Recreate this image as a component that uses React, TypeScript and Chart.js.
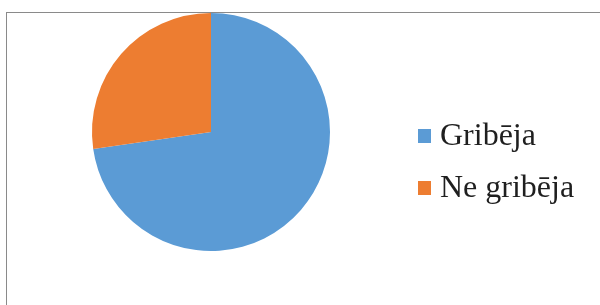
import React, { useEffect, useRef } from "react";
import { Chart, registerables } from "chart.js";

Chart.register(...registerables);

const categories = ["Gribēja", "Ne gribēja"];
const values = [8, 3];
const colors = ["#5B9BD5", "#ED7D31"];

export default function App() {
  const ref = useRef<HTMLCanvasElement | null>(null);

  useEffect(() => {
    document.body.style.margin = "0";
    document.body.style.overflow = "hidden";
    if (!ref.current) return;
    const chart = new Chart(ref.current, {
      type: "pie",
      data: {
        labels: categories,
        datasets: [
          {
            data: values,
            backgroundColor: colors,
            borderWidth: 0,
          },
        ],
      },
      options: {
        animation: false,
        responsive: false,
        maintainAspectRatio: false,
        layout: { padding: { left: 92, right: 270, top: 13, bottom: 54 } },
        plugins: {
          legend: { display: false },
          tooltip: { enabled: false },
        },
      },
    });
    return () => chart.destroy();
  }, []);

  const rowTop = [118, 170];
  const boxTop = [129, 181];

  return (
    <div
      style={{
        position: "fixed",
        left: 0,
        top: 0,
        width: 600,
        height: 305,
        overflow: "hidden",
        background: "#fff",
      }}
    >
      <div
        style={{
          position: "absolute",
          left: 6,
          top: 12,
          width: 640,
          height: 340,
          borderTop: "1px solid #8a8a8a",
          borderLeft: "1px solid #8a8a8a",
        }}
      />
      <canvas
        ref={ref}
        width={600}
        height={305}
        style={{ position: "absolute", left: 0, top: 0, width: 600, height: 305 }}
      />
      {categories.map((c, i) => (
        <React.Fragment key={c}>
          <div
            style={{
              position: "absolute",
              left: 418,
              top: boxTop[i],
              width: 13,
              height: 14,
              background: colors[i],
            }}
          />
          <div
            style={{
              position: "absolute",
              left: 440,
              top: rowTop[i],
              fontFamily: "'Liberation Serif', 'Times New Roman', serif",
              fontSize: 32,
              lineHeight: "32px",
              color: "#1f1f1f",
              whiteSpace: "nowrap",
            }}
          >
            {c}
          </div>
        </React.Fragment>
      ))}
    </div>
  );
}
